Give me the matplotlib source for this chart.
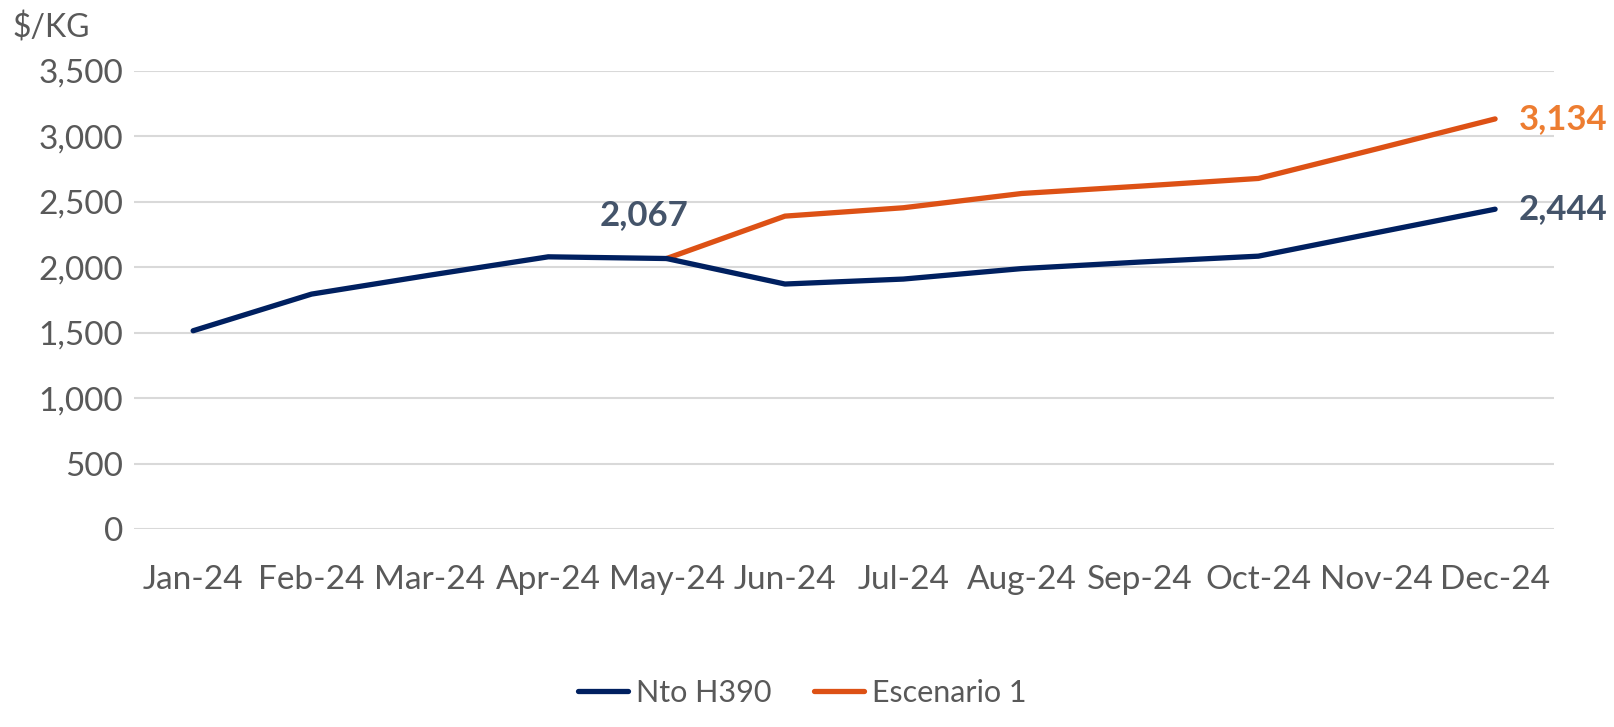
import matplotlib.pyplot as plt
from matplotlib.ticker import FuncFormatter

plt.rcParams['font.family'] = ['Lato', 'DejaVu Sans']

# data
months = ['Jan-24', 'Feb-24', 'Mar-24', 'Apr-24', 'May-24', 'Jun-24',
          'Jul-24', 'Aug-24', 'Sep-24', 'Oct-24', 'Nov-24', 'Dec-24']
nto_h390 = [1515, 1795, 1940, 2080, 2067, 1872, 1910, 1990, 2040, 2085, 2265, 2444]
esc_months = months[4:]
escenario_1 = [2067, 2391, 2455, 2564, 2620, 2679, 2905, 3134]

navy = '#002060'
orange = '#DD5115'
grey_txt = '#595959'

fig = plt.figure(figsize=(16.14, 7.27), dpi=100)
ax = fig.add_axes([0.083, 0.2724, 0.88, 0.6299])

x = list(range(len(months)))
x_esc = [months.index(m) for m in esc_months]

ax.plot(x, nto_h390, color=navy, lw=3.8, solid_capstyle='round',
        solid_joinstyle='round', label='Nto H390', zorder=3)
ax.plot(x_esc, escenario_1, color=orange, lw=3.8, solid_capstyle='round',
        solid_joinstyle='round', label='Escenario 1', zorder=2)

# data labels
ax.annotate(f'{nto_h390[4]:,}', (x[4], nto_h390[4]), xytext=(-16, 31),
            textcoords='offset points', ha='center', va='center',
            fontsize=25, fontweight='bold', color='#44546A')
ax.annotate(f'{nto_h390[-1]:,}', (x[-1], nto_h390[-1]), xytext=(17, 0),
            textcoords='offset points', ha='left', va='center',
            fontsize=25, fontweight='bold', color='#44546A')
ax.annotate(f'{escenario_1[-1]:,}', (x_esc[-1], escenario_1[-1]), xytext=(17, 0),
            textcoords='offset points', ha='left', va='center',
            fontsize=25, fontweight='bold', color='#ED7D31')

ax.set_xlim(-0.5, len(months) - 0.5)
ax.set_ylim(0, 3500)
ax.set_yticks(range(0, 3501, 500))
ax.yaxis.set_major_formatter(FuncFormatter(lambda v, p: f'{int(v):,}'))
ax.set_xticks(x)
ax.set_xticklabels(months)
ax.tick_params(axis='both', length=0, labelsize=24, colors=grey_txt)
ax.tick_params(axis='x', pad=26)
ax.tick_params(axis='y', pad=8)

ax.grid(axis='y', color='#D9D9D9', lw=1.5)
ax.set_axisbelow(True)
for s in ax.spines.values():
    s.set_visible(False)

fig.text(0.008, 0.962, '$/KG', fontsize=23, color=grey_txt, ha='left', va='center')

fig.legend(loc='center', bbox_to_anchor=(0.497, 0.047), ncol=2, frameon=False,
           fontsize=22, labelcolor=grey_txt, handlelength=1.65,
           handletextpad=0.25, columnspacing=1.4)

fig.savefig('out.png', dpi=100)
